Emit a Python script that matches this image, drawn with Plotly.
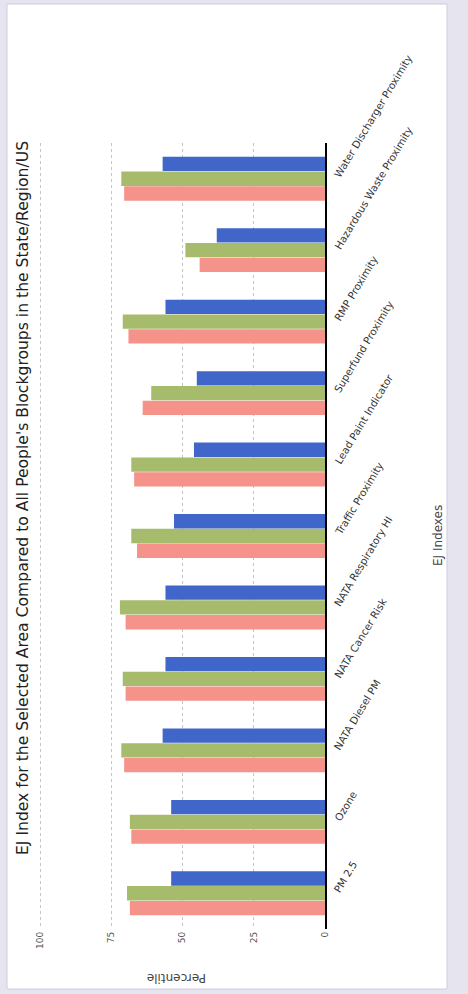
import plotly.graph_objects as go

categories = ["PM 2.5", "Ozone", "NATA Diesel PM", "NATA Cancer Risk",
              "NATA Respiratory HI", "Traffic Proximity", "Lead Paint Indicator",
              "Superfund Proximity", "RMP Proximity", "Hazardous Waste Proximity",
              "Water Discharger Proximity"]
state_vals = [68.5, 68, 70.5, 70, 70, 66, 67, 64, 69, 44, 70.5]
region_vals = [69.5, 68.5, 71.5, 71, 72, 68, 68, 61, 71, 49, 71.5]
us_vals = [54, 54, 57, 56, 56, 53, 46, 45, 56, 38, 57]
series_names = ["State", "Region", "US"]
x_ticks = [0, 25, 50, 75, 100]

colors = ["#f5928a", "#a6bb6c", "#4166c9"]
FONT = "DejaVu Sans"
W, H = 468, 994
L, R, T, B = 39, 325, 143, 929

def px(x):
    return (x - L) / (R - L)

def py(y):
    return (B - y) / (B - T)

fig = go.Figure()
for name, vals, c in zip(series_names, [state_vals, region_vals, us_vals], colors):
    fig.add_trace(go.Bar(y=categories, x=vals, name=name, orientation="h",
                         marker=dict(color=c, line=dict(width=0))))

fig.update_layout(
    width=W, height=H,
    margin=dict(l=L, r=W - R, t=T, b=H - B),
    paper_bgcolor="#e6e4ef",
    plot_bgcolor="white",
    barmode="group", bargap=0.38, bargroupgap=0.03,
    showlegend=False,
    font=dict(family=FONT, color="#333"),
    xaxis=dict(range=[100.4, 0], tickvals=x_ticks, ticktext=[str(v) for v in x_ticks],
               tickangle=-90, showgrid=True, gridcolor="#c4c4c4", griddash="dot",
               gridwidth=1, zeroline=False, showline=False,
               tickfont=dict(size=9, color="#555", family=FONT)),
    yaxis=dict(categoryorder="array", categoryarray=categories, side="right",
               range=[-0.5, len(categories) - 0.5], autorange=False,
               showticklabels=False, showline=True, linecolor="black", linewidth=2,
               showgrid=False, zeroline=False),
    shapes=[dict(type="rect", xref="paper", yref="paper",
                 x0=px(7), x1=px(447), y0=py(989), y1=py(4),
                 fillcolor="white", line=dict(color="#cfcde0", width=1), layer="below")],
)

annotations = []
annotations.append(dict(text="EJ Index for the Selected Area Compared to All People's Blockgroups in the State/Region/US",
                        xref="paper", yref="paper", x=px(23), y=py(498), textangle=-90,
                        showarrow=False, xanchor="center", yanchor="middle",
                        font=dict(size=15.6, color="#222", family=FONT)))
annotations.append(dict(text="EJ Indexes", xref="paper", yref="paper", x=px(438), y=py(536),
                        textangle=-90, showarrow=False, xanchor="center", yanchor="middle",
                        font=dict(size=12, color="#444", family=FONT)))
annotations.append(dict(text="Percentile", xref="paper", yref="paper", x=px(177), y=py(978),
                        textangle=180, showarrow=False, xanchor="center", yanchor="middle",
                        font=dict(size=12, color="#444", family=FONT)))
for cat in categories:
    annotations.append(dict(text=cat, xref="paper", yref="y", x=px(329), y=cat, yshift=-4,
                            textangle=-59, showarrow=False, xanchor="left", yanchor="bottom",
                            font=dict(size=10.3, color="#333", family=FONT)))
fig.update_layout(annotations=annotations)

fig.write_html("out.html")
